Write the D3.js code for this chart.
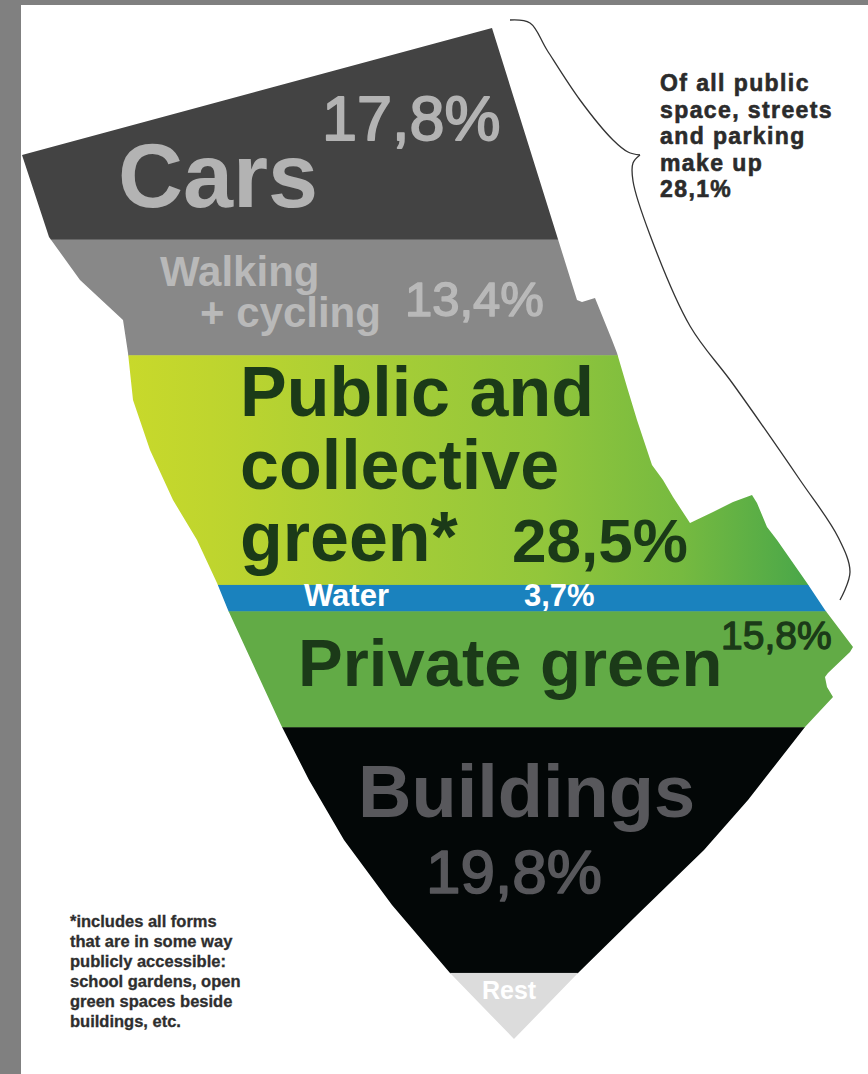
<!DOCTYPE html>
<html>
<head>
<meta charset="utf-8">
<script src="https://cdn.jsdelivr.net/npm/d3@7"></script>
<style>
  html, body { margin: 0; padding: 0; background: #ffffff; }
  svg { display: block; }
  text { font-family: "Liberation Sans", Arial, Helvetica, sans-serif; }
</style>
</head>
<body>
<svg id="chart" width="868" height="1074"></svg>
<script>
// ---------------- DATA ----------------
const categories = ["Cars", "Walking + cycling", "Public and collective green", "Water", "Private green", "Buildings", "Rest"];
const shares = [17.8, 13.4, 28.5, 3.7, 15.8, 19.8, 1.0];
const streetsAndParkingShare = 28.1;
const bracketNote = ["Of all public", "space, streets", "and parking", "make up"];
const footnote = ["*includes all forms", "that are in some way", "publicly accessible:", "school gardens, open", "green spaces beside", "buildings, etc."];

// ---------------- STYLE ----------------
const bandFills = ["#434343", "#888888", "url(#greenGrad)", "#1a82be", "#62ab46", "#030707", "#dcdcdc"];

// outline of the district (geometry only)
const outline = [
  [22,155],[492,28],[577,300],[582,302],[595,298],[612,340],[617,353],[627,387],[637,420],
  [647,450],[652,465],[663,480],[673,497],[690,523],[713,512],[733,502],[752,495],[757,503],
  [767,527],[777,540],[807,583],[825,610],[853,647],[850,652],[828,673],[825,677],[827,687],
  [833,697],[805,727],[748,800],[704,850],[635,917],[578,973],[514,1039],[450,973],[392,905],
  [344,840],[309,780],[281,725],[228,610],[217,583],[197,540],[173,500],[150,450],[133,400],
  [128,353],[123,320],[80,280],[49,237]
];

const svg = d3.select("#chart");
const W = 868, H = 1074;

// frame
svg.append("rect").attr("x", 0).attr("y", 0).attr("width", W).attr("height", H).attr("fill", "#fff");
svg.append("rect").attr("x", 0).attr("y", 0).attr("width", 21).attr("height", H).attr("fill", "#808080");
svg.append("rect").attr("x", 0).attr("y", 0).attr("width", W).attr("height", 5).attr("fill", "#808080");

const defs = svg.append("defs");
const grad = defs.append("linearGradient").attr("id", "greenGrad")
  .attr("gradientUnits", "userSpaceOnUse").attr("x1", 128).attr("x2", 820).attr("y1", 0).attr("y2", 0);
[[0, "#c8d92b"], [0.12, "#bfd52e"], [0.35, "#a8ce36"], [0.6, "#92c63b"], [0.8, "#76ba40"], [1, "#45a54a"]]
  .forEach(([o, c]) => grad.append("stop").attr("offset", o).attr("stop-color", c));

const pathStr = "M" + outline.map(p => p.join(",")).join("L") + "Z";
defs.append("clipPath").attr("id", "shape").append("path").attr("d", pathStr);

// ---- area-proportional y scale ----
function widthAt(y) {
  const xs = [];
  for (let i = 0; i < outline.length; i++) {
    const p = outline[i], q = outline[(i + 1) % outline.length];
    if ((p[1] <= y && q[1] > y) || (q[1] <= y && p[1] > y)) {
      xs.push(p[0] + (y - p[1]) * (q[0] - p[0]) / (q[1] - p[1]));
    }
  }
  xs.sort((a, b) => a - b);
  let w = 0;
  for (let i = 0; i + 1 < xs.length; i += 2) w += xs[i + 1] - xs[i];
  return w;
}
const yMin = d3.min(outline, d => d[1]), yMax = d3.max(outline, d => d[1]);
const step = 0.25;
const ys = d3.range(yMin, yMax + step, step);
let acc = 0;
const cumArea = ys.map((y, i) => {
  if (i > 0) acc += widthAt(y - step / 2) * step + 1e-9;
  return acc;
});
const total = acc;
const y = d3.scaleLinear().domain(cumArea.map(a => a / total)).range(ys);

const totalShare = d3.sum(shares);
const cum = [0, ...d3.cumsum(shares)].map(v => v / totalShare);
const bands = categories.map((c, i) => ({ name: c, value: shares[i], y0: y(cum[i]), y1: y(cum[i + 1]), fill: bandFills[i] }));

svg.append("g").attr("clip-path", "url(#shape)")
  .selectAll("rect").data(bands).join("rect")
  .attr("x", 0).attr("width", W)
  .attr("y", d => d.y0).attr("height", d => d.y1 - d.y0 + 0.5)
  .attr("fill", d => d.fill);

// ---- labels ----
const fmt = v => d3.format(".1f")(v).replace(".", ",") + "%";
function label(txt, x, yy, size, fill, weight, stroke) {
  const t = svg.append("text").attr("x", x).attr("y", yy).text(txt)
    .attr("font-size", size).attr("font-weight", weight || "bold").attr("fill", fill);
  if (stroke) t.attr("stroke", fill).attr("stroke-width", stroke).attr("stroke-linejoin", "round");
  return t;
}
// Cars
label("Cars", 118, 207, 90, "#b3b3b3");
label(fmt(shares[0]), 322, 140, 63, "#b3b3b3", "normal", 1.8);
// Walking + cycling
label("Walking", 160, 286, 42, "#b9b9b9");
label("+ cycling", 200, 327, 42, "#b9b9b9");
label(fmt(shares[1]), 405, 316, 49, "#b9b9b9", "normal", 1.5);
// public green
label("Public and", 240, 416, 70, "#1b3a18");
label("collective", 240, 489, 70, "#1b3a18");
label("green*", 240, 561, 70, "#1b3a18");
label(fmt(shares[2]), 512, 562, 62, "#1b3a18");
// water
label("Water", 304, 606, 31, "#ffffff");
label(fmt(shares[3]), 524, 606, 31, "#ffffff");
// private green
label("Private green", 298, 686, 67, "#1b3a18");
label(fmt(shares[4]), 721, 649, 39, "#1b3a18", "normal", 1.3);
// buildings
label("Buildings", 358, 817, 74, "#58585c");
label(fmt(shares[5]), 426, 893, 62, "#58585c", "normal", 1.7);
// rest
label("Rest", 482, 999, 25, "#ffffff");

// ---- bracket ----
const bl = d3.line().curve(d3.curveCatmullRom.alpha(0.5));
const upper = [[510,20],[530,23],[547,50],[580,100],[613,140],[628,152],[640,155]];
const lower = [[640,155],[633,163],[633,181],[650,235],[690,326],[733,384],[800,480],[838,537],[850,572],[840,600]];
svg.append("path").attr("d", bl(upper)).attr("fill", "none").attr("stroke", "#333").attr("stroke-width", 1.3);
svg.append("path").attr("d", bl(lower)).attr("fill", "none").attr("stroke", "#333").attr("stroke-width", 1.3);

const note = [...bracketNote, fmt(streetsAndParkingShare)];
svg.append("g").selectAll("text").data(note).join("text")
  .attr("x", 660).attr("y", (d, i) => 91 + i * 26.5)
  .attr("font-size", 23).attr("font-weight", "bold").attr("fill", "#2b2b2b")
  .attr("letter-spacing", 1.4)
  .attr("stroke", "#2b2b2b").attr("stroke-width", 0.6)
  .text(d => d);

// ---- footnote ----
svg.append("g").selectAll("text").data(footnote).join("text")
  .attr("x", 70).attr("y", (d, i) => 927 + i * 20)
  .attr("font-size", 16.5).attr("font-weight", "bold").attr("fill", "#2e2e2e")
  .attr("stroke", "#2e2e2e").attr("stroke-width", 0.3)
  .text(d => d);
</script>
</body>
</html>
